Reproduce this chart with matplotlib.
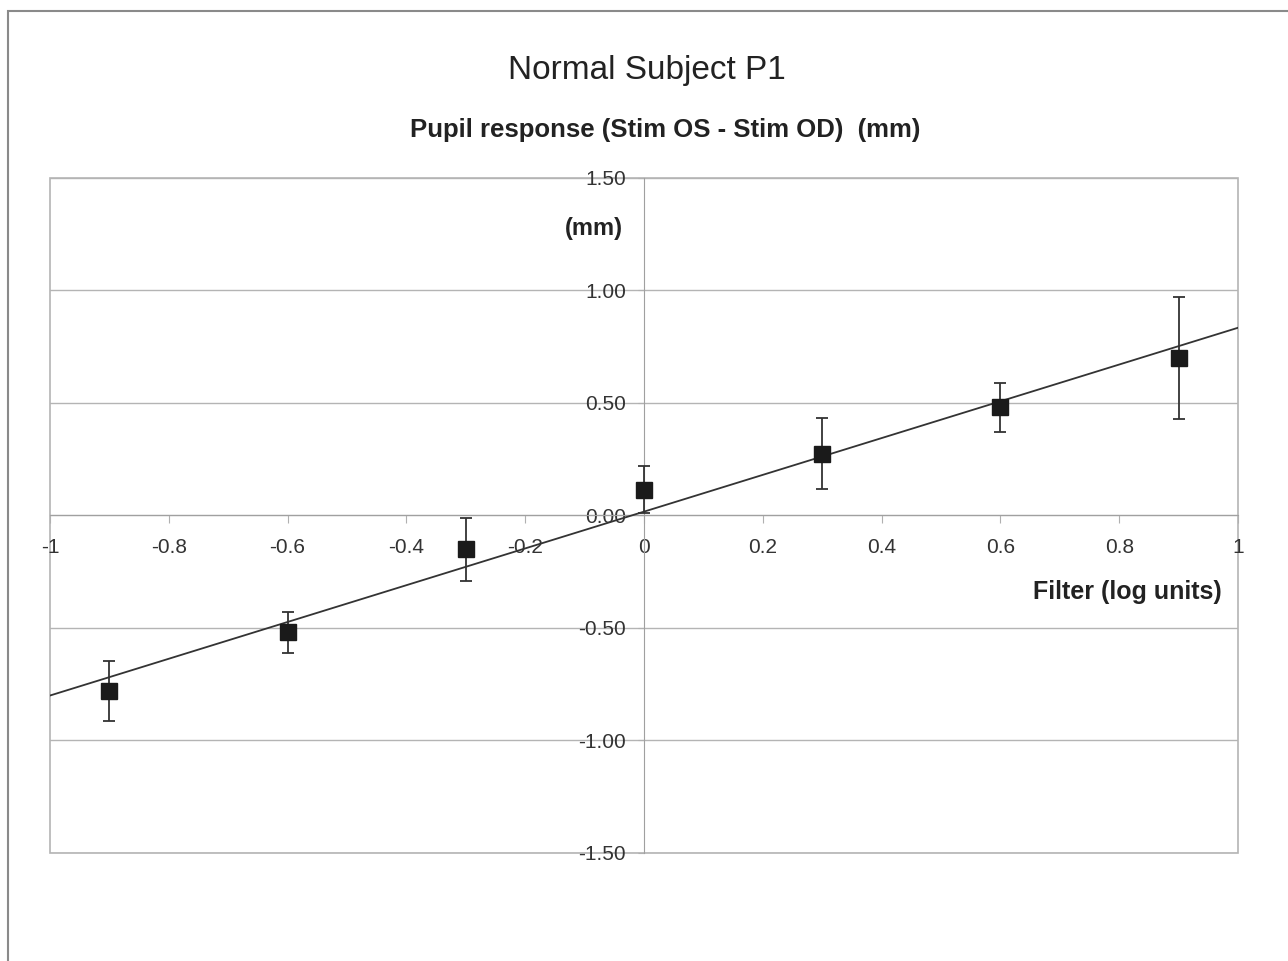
import numpy as np
import matplotlib
matplotlib.use("Agg")
import matplotlib.pyplot as plt
from matplotlib.patches import Rectangle

plt.rcParams['font.family'] = ['Liberation Sans', 'DejaVu Sans']

# Data
filter_log = [-0.9, -0.6, -0.3, 0.0, 0.3, 0.6, 0.9]
response_mm = [-0.78, -0.52, -0.15, 0.115, 0.275, 0.48, 0.70]
error_mm = [0.135, 0.09, 0.14, 0.105, 0.157, 0.11, 0.27]

x_ticks = [-1, -0.8, -0.6, -0.4, -0.2, 0, 0.2, 0.4, 0.6, 0.8, 1]
x_tick_labels = ['-1', '-0.8', '-0.6', '-0.4', '-0.2', '0', '0.2', '0.4', '0.6', '0.8', '1']
y_ticks = [-1.5, -1.0, -0.5, 0.0, 0.5, 1.0, 1.5]
y_tick_labels = ['-1.50', '-1.00', '-0.50', '0.00', '0.50', '1.00', '1.50']

title = 'Normal Subject P1'
subtitle = 'Pupil response (Stim OS - Stim OD)  (mm)'
y_unit = '(mm)'
x_label = 'Filter (log units)'

W, H = 1288, 961
fig = plt.figure(figsize=(W / 100, H / 100), dpi=100)
fig.patch.set_facecolor('white')

# outer frame (top and left visible)
fig.add_artist(Rectangle((8 / W, -0.01), 1.05, 1 - 11 / H + 0.01,
                         transform=fig.transFigure, fill=False,
                         edgecolor='#8a8a8a', linewidth=1.5))

ax = fig.add_axes([50 / W, 1 - 853 / H, (1238 - 50) / W, (853 - 178) / H])
ax.set_xlim(-1, 1)
ax.set_ylim(-1.5, 1.5)

grid_c = '#b4b4b4'
for yv in y_ticks:
    ax.axhline(yv, color=grid_c, linewidth=1.0, zorder=1)

for s in ['top', 'right']:
    ax.spines[s].set_visible(False)
ax.spines['left'].set_position(('data', 0))
ax.spines['bottom'].set_position(('data', 0))
ax.spines['left'].set_color('#a0a0a0')
ax.spines['bottom'].set_color('#a0a0a0')
ax.add_patch(Rectangle((0, 0), 1, 1, transform=ax.transAxes, fill=False,
                       edgecolor='#b4b4b4', linewidth=1.2, clip_on=False, zorder=1))

ax.set_xticks(x_ticks)
ax.set_xticklabels(x_tick_labels)
ax.set_yticks(y_ticks)
ax.set_yticklabels(y_tick_labels)
ax.tick_params(axis='x', direction='out', length=6, pad=10, colors='#b0b0b0',
               labelcolor='#333333', labelsize=15)
ax.tick_params(axis='y', direction='out', length=4, pad=9, colors='#b0b0b0',
               labelcolor='#333333', labelsize=15)

# linear trend line
coef = np.polyfit(filter_log, response_mm, 1)
xl = np.array([-1.0, 1.0])
ax.plot(xl, np.polyval(coef, xl), color='#333333', linewidth=1.3, zorder=3)

ax.errorbar(filter_log, response_mm, yerr=error_mm, fmt='s', color='#1a1a1a',
            markersize=12, ecolor='#333333', elinewidth=1.3, capsize=4.5,
            capthick=1.3, zorder=4)

ax.text(-0.084, 1.276, y_unit, ha='center', va='center', fontsize=17,
        fontweight='bold', color='#222222')
ax.text(0.973, -0.338, x_label, ha='right', va='center', fontsize=18,
        fontweight='bold', color='#222222')

fig.text(647 / W, 1 - 71 / H, title, ha='center', va='center', fontsize=24,
         color='#222222')
fig.text(665 / W, 1 - 130 / H, subtitle, ha='center', va='center', fontsize=18.5,
         fontweight='bold', color='#222222')

fig.savefig('out.png', dpi=100)
